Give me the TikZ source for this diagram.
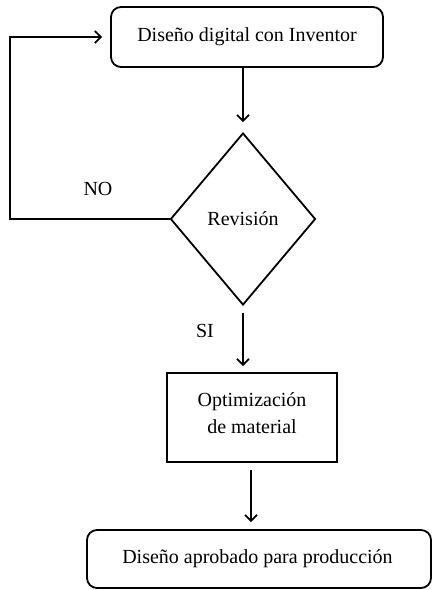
\documentclass[tikz,border=0pt]{standalone}
\usepackage{fontspec}
\setmainfont{Liberation Serif}
\usetikzlibrary{shapes.geometric,arrows.meta}
\begin{document}
\begin{tikzpicture}[x=1pt,y=-1pt,
  lbl/.style={font=\fontsize{20}{26}\selectfont},
  rbox/.style={draw,line width=1.8pt,rounded corners=10pt,lbl,inner sep=0pt},
  sbox/.style={draw,line width=1.8pt,lbl,inner sep=0pt,align=center},
  dbox/.style={draw,line width=1.8pt,diamond,lbl,inner sep=0pt,minimum width=145pt,minimum height=172pt},
  arr/.style={line width=1.8pt,-{Straight Barb[length=6pt,width=12pt,line width=1.8pt]}}]
\useasboundingbox (0,0) rectangle (432,590);
\node[rbox,minimum width=272pt,minimum height=60pt] (top) at (247,37) {Diseño digital con Inventor};
\node[dbox] (dia) at (243,219) {Revisión};
\node[sbox,minimum width=170pt,minimum height=89pt] (opt) at (252,417.5) {Optimización\\[1pt]de material\\[-18pt]\mbox{}};
\node[rbox,minimum width=344pt,minimum height=58pt] (fin) at (259,559) {\hspace*{-3pt}Diseño aprobado para producción};
\coordinate (c1) at (10,219);
\coordinate (c2) at (10,37);
\draw[arr,shorten >=10pt] (top.south -| dia.north) -- (dia.north);
\draw[arr,shorten >=8pt] (dia.west) -- (c1) -- (c2) -- (top.west);
\draw[arr,shorten <=7pt,shorten >=6pt] (dia.south) -- (dia.south |- opt.north);
\draw[arr,shorten <=7pt,shorten >=7pt] ([xshift=-1pt]opt.south) -- ([xshift=-1pt]opt.south |- fin.north);
\node[lbl] (no) at (98,189) {NO};
\node[lbl] (si) at (205,331) {SI};
\end{tikzpicture}
\end{document}
